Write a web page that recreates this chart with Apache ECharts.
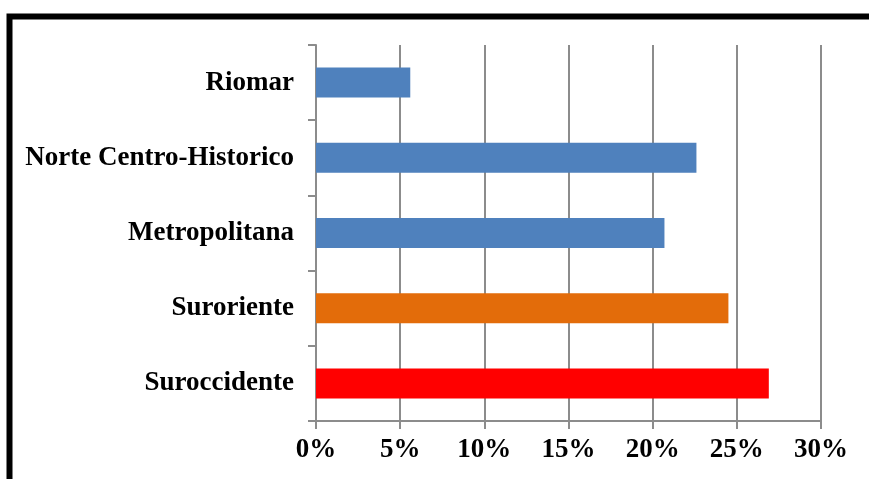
<!DOCTYPE html>
<html>
<head>
<meta charset="utf-8">
<script src="https://cdn.jsdelivr.net/npm/echarts@6/dist/echarts.min.js"></script>
<style>
  html, body { margin: 0; padding: 0; background: #fff; }
  #chart { width: 869px; height: 479px; }
</style>
</head>
<body>
<div id="chart"></div>
<script>
// categories, bottom to top (category axis starts at the bottom)
const zonas = ['Suroccidente', 'Suroriente', 'Metropolitana', 'Norte Centro-Historico', 'Riomar'];
const porcentajes = [26.9, 24.5, 20.7, 22.6, 5.6];
const xTicks = [0, 5, 10, 15, 20, 25, 30];

// bar colours, one per zone
const colores = ['#ff0000', '#e36c0a', '#4f81bd', '#4f81bd', '#4f81bd'];

const grisEje = '#8c8c8c';
const fuente = { fontFamily: 'Liberation Serif', fontWeight: 'bold', fontSize: 27, color: '#000' };

let myChart = echarts.init(document.getElementById('chart'));
myChart.setOption({
  animation: false,
  grid: { left: 316, right: 48, top: 45, bottom: 58 },
  xAxis: {
    type: 'value',
    min: xTicks[0],
    max: xTicks[xTicks.length - 1],
    interval: xTicks[1] - xTicks[0],
    axisLine: { show: true, lineStyle: { color: grisEje, width: 2 } },
    axisTick: { show: true, length: 8, lineStyle: { color: grisEje, width: 2 } },
    splitLine: { show: true, lineStyle: { color: grisEje, width: 2 } },
    axisLabel: Object.assign({ margin: 16, formatter: '{value}%' }, fuente),
  },
  yAxis: {
    type: 'category',
    data: zonas,
    axisLine: { show: true, lineStyle: { color: grisEje, width: 2 } },
    axisTick: { show: true, length: 8, lineStyle: { color: grisEje, width: 2 } },
    axisLabel: Object.assign({ margin: 22, padding: [4, 0, 0, 0] }, fuente),
  },
  series: [
    {
      type: 'bar',
      barWidth: 30,
      data: porcentajes.map((v, i) => ({ value: v, itemStyle: { color: colores[i] } })),
    },
  ],
  graphic: [
    {
      type: 'rect',
      shape: { x: 9.5, y: 16.5, width: 1000, height: 1000 },
      style: { fill: 'none', stroke: '#000', lineWidth: 6 },
      silent: true,
    },
  ],
});
</script>
</body>
</html>
